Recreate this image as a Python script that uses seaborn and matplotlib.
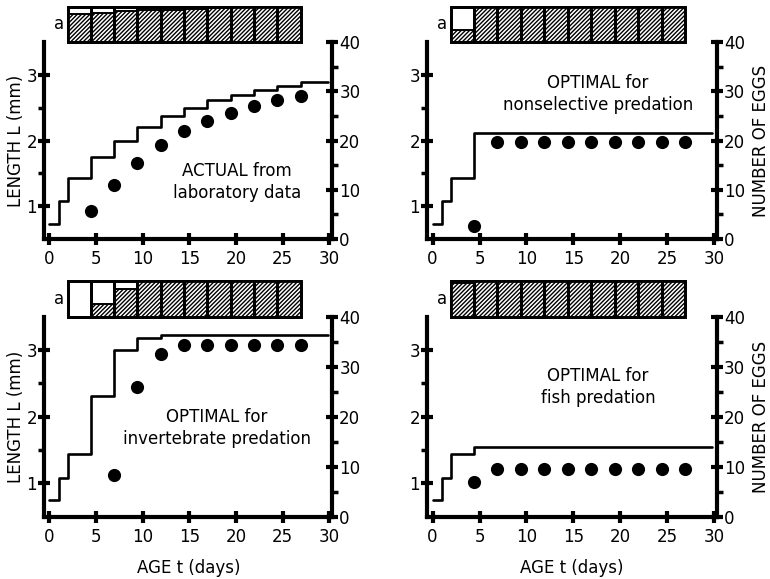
import matplotlib
matplotlib.use("Agg")
import matplotlib.pyplot as plt
import seaborn as sns
import pandas as pd

# ---------------- data ----------------
instar_age = [0, 1, 2, 4.4, 6.9, 9.4, 11.9, 14.4, 16.9, 19.4, 21.9, 24.4, 26.9]
end_age = 29.8
brood_age = [4.4, 6.9, 9.4, 11.9, 14.4, 16.9, 19.4, 21.9, 24.4, 26.9]
box_edges = [2, 4.4, 6.9, 9.4, 11.9, 14.4, 16.9, 19.4, 21.9, 24.4, 26.9]

len_actual = [0.73, 1.08, 1.43, 1.75, 2.0, 2.21, 2.375, 2.5, 2.61, 2.70, 2.77, 2.835, 2.89]
eggs_actual = [5.6, 10.9, 15.4, 19.1, 21.9, 24.0, 25.6, 27.1, 28.2, 29.1]
alloc_actual = [0.78, 0.83, 0.87, 0.91, 0.91, 0.94, 0.97, 1, 1, 1]

len_nonsel = [0.73, 1.08, 1.43, 2.12, 2.12, 2.12, 2.12, 2.12, 2.12, 2.12, 2.12, 2.12, 2.12]
eggs_nonsel = [2.6, 19.6, 19.6, 19.6, 19.6, 19.6, 19.6, 19.6, 19.6, 19.6]
alloc_nonsel = [0.35, 1, 1, 1, 1, 1, 1, 1, 1, 1]

len_invert = [0.75, 1.08, 1.44, 2.31, 3.0, 3.18, 3.22, 3.22, 3.22, 3.22, 3.22, 3.22, 3.22]
eggs_invert_age = [6.9, 9.4, 11.9, 14.4, 16.9, 19.4, 21.9, 24.4, 26.9]
eggs_invert = [8.3, 25.9, 32.5, 34.3, 34.3, 34.3, 34.3, 34.3, 34.3]
alloc_invert = [0, 0.36, 0.78, 1, 1, 1, 1, 1, 1, 1]

len_fish = [0.75, 1.08, 1.44, 1.55, 1.55, 1.55, 1.55, 1.55, 1.55, 1.55, 1.55, 1.55, 1.55]
eggs_fish = [7.0, 9.5, 9.5, 9.5, 9.5, 9.5, 9.5, 9.5, 9.5, 9.5]
alloc_fish = [0.95, 1, 1, 1, 1, 1, 1, 1, 1, 1]

panel_titles = ["ACTUAL from\nlaboratory data",
                "OPTIMAL for\nnonselective predation",
                "OPTIMAL for\ninvertebrate predation",
                "OPTIMAL for\nfish predation"]
x_ticks = [0, 5, 10, 15, 20, 25, 30]
left_ticks = [1, 2, 3]
right_ticks = [0, 10, 20, 30, 40]

# ---------------- style ----------------
sns.set_style("ticks")
plt.rcParams["font.family"] = ["DejaVu Sans"]
plt.rcParams["hatch.linewidth"] = 1.0
for k in ("axes.edgecolor", "text.color", "xtick.color", "ytick.color", "axes.labelcolor"):
    plt.rcParams[k] = "black"

fig = plt.figure(figsize=(7.7, 5.79), dpi=100)

panels = [
    dict(pos=[0.0570, 0.5872, 0.3745, 0.3402], L=len_actual, ea=brood_age, e=eggs_actual,
         a=alloc_actual, t=panel_titles[0], tx=0.67, ty=0.29),
    dict(pos=[0.5545, 0.5872, 0.3766, 0.3402], L=len_nonsel, ea=brood_age, e=eggs_nonsel,
         a=alloc_nonsel, t=panel_titles[1], tx=0.59, ty=0.735),
    dict(pos=[0.0570, 0.1076, 0.3745, 0.3454], L=len_invert, ea=eggs_invert_age, e=eggs_invert,
         a=alloc_invert, t=panel_titles[2], tx=0.60, ty=0.443),
    dict(pos=[0.5545, 0.1076, 0.3766, 0.3454], L=len_fish, ea=brood_age, e=eggs_fish,
         a=alloc_fish, t=panel_titles[3], tx=0.59, ty=0.648),
]

FS = 12
SPW = 3.0
XLIM = (-0.6, 30.3)

for p in panels:
    ax = fig.add_axes(p["pos"])
    ax2 = ax.twinx()
    # length step line
    xs = instar_age + [end_age]
    ys = p["L"] + [p["L"][-1]]
    df = pd.DataFrame({"age": xs, "length": ys})
    sns.lineplot(data=df, x="age", y="length", ax=ax, color="black", lw=1.9,
                 drawstyle="steps-post", estimator=None, sort=False)
    # eggs
    de = pd.DataFrame({"age": p["ea"], "eggs": p["e"]})
    sns.scatterplot(data=de, x="age", y="eggs", ax=ax2, color="black", s=90,
                    edgecolor="black", linewidth=0, zorder=5)

    ax.set_xlim(*XLIM)
    ax.set_ylim(0.5, 3.5)
    ax2.set_ylim(0, 40)
    ax.set_xticks(x_ticks)
    ax.set_yticks(left_ticks)
    ax.set_yticks([1.5, 2.5], minor=True)
    ax2.set_yticks(right_ticks)
    ax2.set_yticks([5, 15, 25, 35], minor=True)
    ax.set_xlabel("")
    ax.set_ylabel("")
    ax2.set_ylabel("")
    for a_ in (ax, ax2):
        a_.spines["top"].set_visible(False)
        for s in ("left", "right", "bottom"):
            a_.spines[s].set_linewidth(SPW)
            a_.spines[s].set_color("black")
    ax.spines["right"].set_visible(False)
    ax2.spines["left"].set_visible(False)
    ax2.spines["bottom"].set_visible(False)
    ax.tick_params(axis="x", which="major", direction="inout", length=8, width=SPW,
                   labelsize=FS, pad=4, color="black", labelcolor="black")
    ax.tick_params(axis="y", which="major", direction="inout", length=8, width=SPW,
                   labelsize=FS, pad=1, color="black", labelcolor="black")
    ax.tick_params(axis="y", which="minor", direction="out", length=4, width=2.5, color="black")
    ax2.tick_params(axis="y", which="major", direction="inout", length=8, width=SPW,
                    labelsize=FS, pad=1, color="black", labelcolor="black")
    ax2.tick_params(axis="y", which="minor", direction="out", length=4, width=2.5, color="black")

    ax.text(p["tx"], p["ty"], p["t"], transform=ax.transAxes, ha="center", va="center",
            fontsize=FS, linespacing=1.3, color="black")

    # allocation strip
    x0, y0, w, h = p["pos"]
    sax = fig.add_axes([x0, y0 + h, w, 0.061])
    sax.set_xlim(*XLIM)
    sax.set_ylim(0, 1)
    sax.axis("off")
    lefts = box_edges[:-1]
    widths = [b - a for a, b in zip(box_edges[:-1], box_edges[1:])]
    sax.bar(lefts, [1] * len(lefts), width=widths, align="edge", color="white",
            edgecolor="black", linewidth=2.0, clip_on=False)
    sax.bar(lefts, p["a"], width=widths, align="edge", color="white", hatch="////////",
            edgecolor="black", linewidth=1.4, clip_on=False)
    sax.bar(lefts, [1] * len(lefts), width=widths, align="edge", fill=False,
            edgecolor="black", linewidth=2.0, clip_on=False)
    sax.text(1.0, 0.5, "a", ha="center", va="center", fontsize=FS, color="black")

fig.text(0.021, 0.757, "LENGTH L (mm)", rotation=90, ha="center", va="center", fontsize=FS)
fig.text(0.021, 0.280, "LENGTH L (mm)", rotation=90, ha="center", va="center", fontsize=FS)
fig.text(0.988, 0.757, "NUMBER OF EGGS", rotation=90, ha="center", va="center", fontsize=FS)
fig.text(0.988, 0.280, "NUMBER OF EGGS", rotation=90, ha="center", va="center", fontsize=FS)
fig.text(0.245, 0.019, "AGE t (days)", ha="center", va="center", fontsize=FS)
fig.text(0.743, 0.019, "AGE t (days)", ha="center", va="center", fontsize=FS)

fig.savefig("out.png", dpi=100)
